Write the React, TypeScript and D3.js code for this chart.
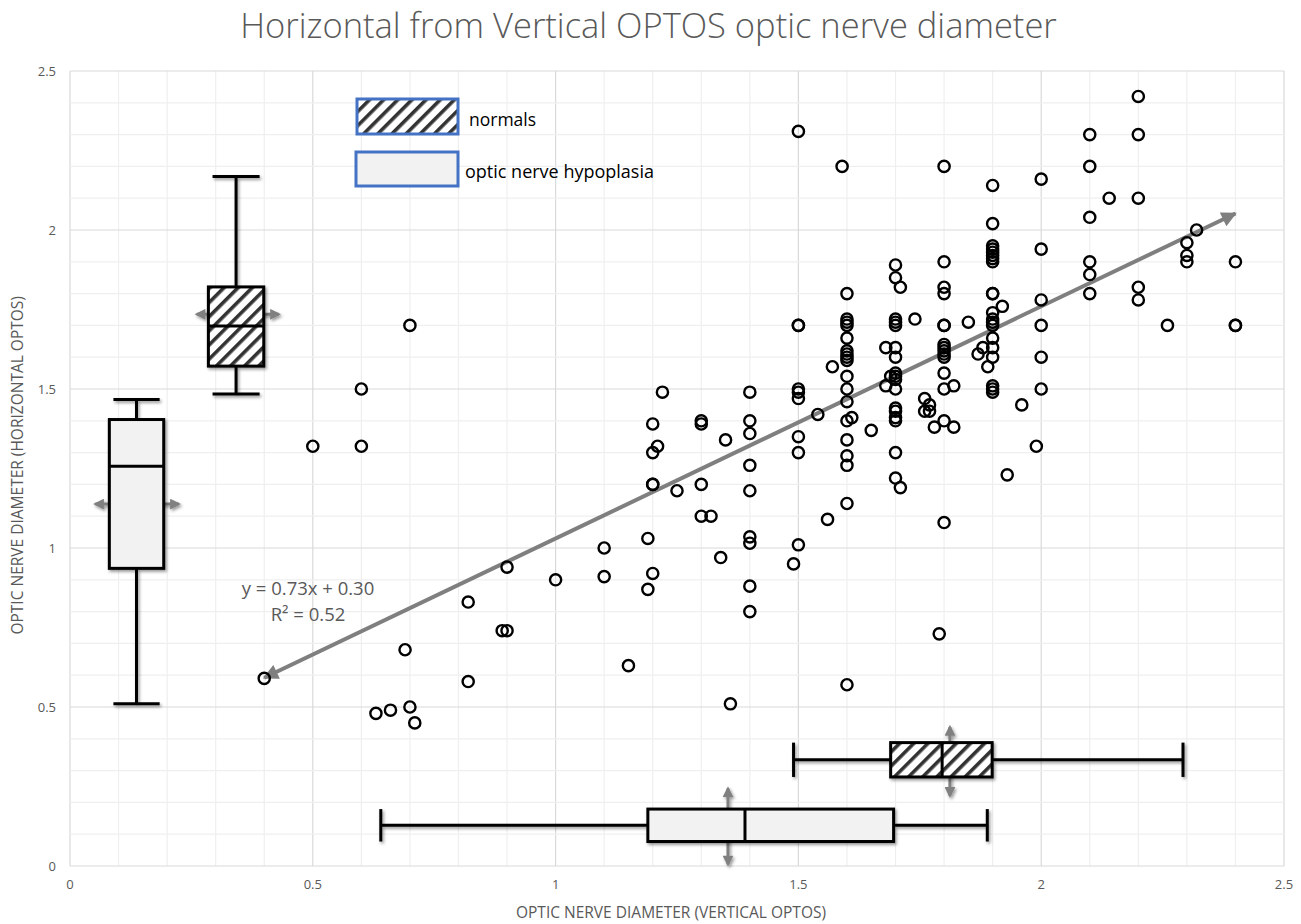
import React from "react";
import * as d3 from "d3";

const W = 1301;
const H = 924;

const chartTitle = "Horizontal from Vertical OPTOS optic nerve diameter";
const xAxisTitle = "OPTIC NERVE DIAMETER (VERTICAL OPTOS)";
const yAxisTitle = "OPTIC NERVE DIAMETER (HORIZONTAL OPTOS)";
const xTicks = [0, 0.5, 1, 1.5, 2, 2.5];
const yTicks = [0, 0.5, 1, 1.5, 2, 2.5];
const equationLines = ["y = 0.73x + 0.30", "R² = 0.52"];
const fitSlope = 0.73;
const fitIntercept = 0.3;
const fitRange = [0.4, 2.4];

// scatter: vertical OPTOS (x) and horizontal OPTOS (y)
const verticalOptos: number[] = [
  0.4, 0.5, 0.6, 0.6, 0.7, 0.69, 0.63, 0.66, 0.7, 0.71,
  0.82, 0.82, 0.9, 0.89, 0.9, 1.0, 1.1, 1.1, 1.15, 1.19,
  1.19, 1.2, 1.2, 1.2, 1.21, 1.2, 1.2, 1.22, 1.25, 1.3,
  1.3, 1.3, 1.3, 1.32, 1.35, 1.34, 1.36, 1.4, 1.4, 1.4,
  1.4, 1.4, 1.4, 1.4, 1.4, 1.4, 1.49, 1.5, 1.5, 1.5,
  1.5, 1.5, 1.5, 1.5, 1.5, 1.5, 1.54, 1.56, 1.57, 1.59,
  1.6, 1.6, 1.6, 1.6, 1.6, 1.6, 1.6, 1.6, 1.6, 1.6,
  1.6, 1.6, 1.6, 1.6, 1.6, 1.6, 1.6, 1.6, 1.61, 1.65,
  1.68, 1.68, 1.69,
  1.7, 1.7, 1.7, 1.7, 1.7, 1.7, 1.7, 1.7, 1.7, 1.7,
  1.7, 1.7, 1.7, 1.7, 1.7, 1.7, 1.7,
  1.71, 1.71, 1.74, 1.76, 1.77, 1.76, 1.77, 1.78, 1.79,
  1.8, 1.8, 1.8, 1.8, 1.8, 1.8, 1.8, 1.8, 1.8, 1.8,
  1.8, 1.8, 1.8, 1.8, 1.8,
  1.82, 1.82, 1.85, 1.87, 1.88, 1.89,
  1.9, 1.9, 1.9, 1.9, 1.9, 1.9, 1.9, 1.9, 1.9, 1.9,
  1.9, 1.9, 1.9, 1.9, 1.9, 1.9, 1.9, 1.9, 1.9, 1.9,
  1.92, 1.93, 1.96, 1.99,
  2.0, 2.0, 2.0, 2.0, 2.0, 2.0,
  2.1, 2.1, 2.1, 2.1, 2.1, 2.1, 2.14,
  2.2, 2.2, 2.2, 2.2, 2.2, 2.26,
  2.3, 2.3, 2.3, 2.32, 2.4, 2.4, 2.4,
];
const horizontalOptos: number[] = [
  0.59, 1.32, 1.5, 1.32, 1.7, 0.68, 0.48, 0.49, 0.5, 0.45,
  0.83, 0.58, 0.94, 0.74, 0.74, 0.9, 1.0, 0.91, 0.63, 1.03,
  0.87, 0.92, 1.39, 1.3, 1.32, 1.2, 1.2, 1.49, 1.18, 1.4,
  1.39, 1.2, 1.1, 1.1, 1.34, 0.97, 0.51, 1.49, 1.4, 1.36,
  1.26, 1.18, 1.035, 1.015, 0.88, 0.8, 0.95, 2.31, 1.7, 1.7,
  1.5, 1.49, 1.47, 1.35, 1.3, 1.01, 1.42, 1.09, 1.57, 2.2,
  1.8, 1.72, 1.71, 1.7, 1.66, 1.62, 1.61, 1.6, 1.59, 1.54,
  1.5, 1.46, 1.4, 1.34, 1.29, 1.26, 1.14, 0.57, 1.41, 1.37,
  1.63, 1.51, 1.54,
  1.89, 1.85, 1.72, 1.71, 1.7, 1.63, 1.6, 1.55, 1.54, 1.53,
  1.5, 1.44, 1.43, 1.41, 1.4, 1.3, 1.22,
  1.82, 1.19, 1.72, 1.47, 1.45, 1.43, 1.43, 1.38, 0.73,
  2.2, 1.9, 1.82, 1.8, 1.7, 1.7, 1.64, 1.63, 1.62, 1.61,
  1.6, 1.55, 1.5, 1.4, 1.08,
  1.51, 1.38, 1.71, 1.61, 1.63, 1.57,
  2.14, 2.02, 1.95, 1.94, 1.93, 1.92, 1.91, 1.9, 1.8, 1.8,
  1.74, 1.72, 1.71, 1.7, 1.66, 1.63, 1.6, 1.51, 1.5, 1.49,
  1.76, 1.23, 1.45, 1.32,
  2.16, 1.94, 1.78, 1.7, 1.6, 1.5,
  2.3, 2.2, 2.04, 1.9, 1.86, 1.8, 2.1,
  2.42, 2.3, 2.1, 1.82, 1.78, 1.7,
  1.96, 1.92, 1.9, 2.0, 1.9, 1.7, 1.7,
];

// box plot summaries: index 0 = normals, 1 = optic nerve hypoplasia
const groupNames = ["normals", "optic nerve hypoplasia"];
// distribution of vertical OPTOS (drawn horizontally along x)
const vertMin = [1.49, 0.64];
const vertQ1 = [1.69, 1.19];
const vertMedian = [1.796, 1.39];
const vertQ3 = [1.899, 1.696];
const vertMax = [2.292, 1.889];
const vertMean = [1.812, 1.355];
// distribution of horizontal OPTOS (drawn vertically along y)
const horzMin = [1.484, 0.51];
const horzQ1 = [1.572, 0.936];
const horzMedian = [1.698, 1.257];
const horzQ3 = [1.821, 1.404];
const horzMax = [2.168, 1.467];
const horzMean = [1.735, 1.138];

const plot = { left: 70, right: 1284, top: 71, bottom: 866 };
const x = d3.scaleLinear().domain([0, 2.5]).range([plot.left, plot.right]);
const y = d3.scaleLinear().domain([0, 2.5]).range([plot.bottom, plot.top]);

// layout of the box glyphs (in data units)
const hBoxCenter = [0.334, 0.128];
const hBoxHalf = [0.054, 0.051];
const hArrow = [[0.221, 0.437], [0.005, 0.244]];
const vBoxCenter = [0.342, 0.137];
const vBoxHalf = [0.057, 0.056];
const vArrow = [[0.261, 0.43], [0.052, 0.224]];

const TXT = "#595959";
const FONT = "'Open Sans', 'Noto Sans', sans-serif";

function fillFor(i: number) {
  return i === 0 ? "url(#hatch)" : "#f2f2f2";
}

function HorizontalBox({ i }: { i: number }) {
  const cy = y(hBoxCenter[i]);
  const top = y(hBoxCenter[i] + hBoxHalf[i]);
  const bot = y(hBoxCenter[i] - hBoxHalf[i]);
  const sw = 3;
  return (
    <g>
      <line x1={x(vertMean[i])} x2={x(vertMean[i])} y1={y(hArrow[i][0])} y2={y(hArrow[i][1])}
        stroke="#808080" strokeWidth={3} markerStart="url(#garrow)" markerEnd="url(#garrow)" filter="url(#sh)" />
      <g filter="url(#sh)">
        <line x1={x(vertMin[i])} x2={x(vertQ1[i])} y1={cy} y2={cy} stroke="#000" strokeWidth={sw} />
        <line x1={x(vertQ3[i])} x2={x(vertMax[i])} y1={cy} y2={cy} stroke="#000" strokeWidth={sw} />
        <line x1={x(vertMin[i])} x2={x(vertMin[i])} y1={top} y2={bot} stroke="#000" strokeWidth={sw} />
        <line x1={x(vertMax[i])} x2={x(vertMax[i])} y1={top} y2={bot} stroke="#000" strokeWidth={sw} />
        <rect x={x(vertQ1[i])} y={top} width={x(vertQ3[i]) - x(vertQ1[i])} height={bot - top}
          fill={fillFor(i)} stroke="#000" strokeWidth={sw} />
        <line x1={x(vertMedian[i])} x2={x(vertMedian[i])} y1={top} y2={bot} stroke="#000" strokeWidth={sw} />
      </g>
    </g>
  );
}

function VerticalBox({ i }: { i: number }) {
  const cx = x(vBoxCenter[i]);
  const l = x(vBoxCenter[i] - vBoxHalf[i]);
  const r = x(vBoxCenter[i] + vBoxHalf[i]);
  const cl = x(vBoxCenter[i] - vBoxHalf[i] * 0.85);
  const cr = x(vBoxCenter[i] + vBoxHalf[i] * 0.85);
  const sw = 3;
  return (
    <g>
      <line x1={x(vArrow[i][0])} x2={x(vArrow[i][1])} y1={y(horzMean[i])} y2={y(horzMean[i])}
        stroke="#808080" strokeWidth={3} markerStart="url(#garrow)" markerEnd="url(#garrow)" filter="url(#sh)" />
      <g filter="url(#sh)">
        <line x1={cx} x2={cx} y1={y(horzMax[i])} y2={y(horzQ3[i])} stroke="#000" strokeWidth={sw} />
        <line x1={cx} x2={cx} y1={y(horzQ1[i])} y2={y(horzMin[i])} stroke="#000" strokeWidth={sw} />
        <line x1={cl} x2={cr} y1={y(horzMax[i])} y2={y(horzMax[i])} stroke="#000" strokeWidth={sw} />
        <line x1={cl} x2={cr} y1={y(horzMin[i])} y2={y(horzMin[i])} stroke="#000" strokeWidth={sw} />
        <rect x={l} y={y(horzQ3[i])} width={r - l} height={y(horzQ1[i]) - y(horzQ3[i])}
          fill={fillFor(i)} stroke="#000" strokeWidth={sw} />
        <line x1={l} x2={r} y1={y(horzMedian[i])} y2={y(horzMedian[i])} stroke="#000" strokeWidth={sw} />
      </g>
    </g>
  );
}

export default function App() {
  const minorX = d3.range(0, 2.5001, 0.1);
  const minorY = d3.range(0, 2.5001, 0.1);
  const points = verticalOptos.map((v, i) => [v, horizontalOptos[i]]);
  return (
    <svg width={W} height={H} style={{ position: "absolute", left: 0, top: 0, background: "#fff" }}
      fontFamily={FONT}>
      <defs>
        <pattern id="hatch" patternUnits="userSpaceOnUse" width={10} height={10} patternTransform="rotate(45)">
          <rect width={10} height={10} fill="#fff" />
          <rect x={0} y={0} width={3.6} height={10} fill="#333" />
        </pattern>
        <marker id="garrow" viewBox="0 0 10 10" refX={8} refY={5} markerWidth={4.2} markerHeight={3.6}
          orient="auto-start-reverse">
          <path d="M0,0 L10,5 L0,10 z" fill="#808080" />
        </marker>
        <marker id="farrow" viewBox="0 0 10 10" refX={9} refY={5} markerWidth={4.4} markerHeight={3.8}
          orient="auto-start-reverse">
          <path d="M0,0 L10,5 L0,10 z" fill="#7f7f7f" />
        </marker>
        <filter id="sh" filterUnits="userSpaceOnUse" x={0} y={0} width={W} height={H}>
          <feDropShadow dx={1.5} dy={2} stdDeviation={1.6} floodColor="#000" floodOpacity={0.4} />
        </filter>
      </defs>
      <rect width={W} height={H} fill="#fff" />
      <text x={W / 2 - 2} y={38} textAnchor="middle" fontSize={34.5} fontWeight={300} fill={TXT}>{chartTitle}</text>

      {/* grid */}
      <g>
        {minorX.map((v) => (
          <line key={"gx" + v} x1={x(v)} x2={x(v)} y1={plot.top} y2={plot.bottom}
            stroke={Math.abs(v * 2 - Math.round(v * 2)) < 1e-6 ? "#d9d9d9" : "#efefef"} strokeWidth={1.2} />
        ))}
        {minorY.map((v) => (
          <line key={"gy" + v} x1={plot.left} x2={plot.right} y1={y(v)} y2={y(v)}
            stroke={Math.abs(v * 2 - Math.round(v * 2)) < 1e-6 ? "#d9d9d9" : "#efefef"} strokeWidth={1.2} />
        ))}
      </g>

      {/* tick labels */}
      {xTicks.map((t) => (
        <text key={"xt" + t} x={x(t)} y={889} textAnchor="middle" fontSize={13} fill={TXT}>{String(t)}</text>
      ))}
      {yTicks.map((t) => (
        <text key={"yt" + t} x={56} y={y(t) + 4.5} textAnchor="end" fontSize={13} fill={TXT}>{String(t)}</text>
      ))}
      <text x={671} y={918} textAnchor="middle" fontSize={15.5} fill={TXT}>{xAxisTitle}</text>
      <text transform={`translate(23,${y(1.26)}) rotate(-90)`} textAnchor="middle" fontSize={15.5} fill={TXT}>{yAxisTitle}</text>

      {/* trend line */}
      <line x1={x(fitRange[0])} y1={y(fitSlope * fitRange[0] + fitIntercept)}
        x2={x(fitRange[1])} y2={y(fitSlope * fitRange[1] + fitIntercept)}
        stroke="#7f7f7f" strokeWidth={4} markerStart="url(#farrow)" markerEnd="url(#farrow)" />
      <text x={308} y={595} textAnchor="middle" fontSize={18.5} fill={TXT}>{equationLines[0]}</text>
      <text x={308} y={621} textAnchor="middle" fontSize={18.5} fill={TXT}>{equationLines[1]}</text>

      {/* scatter */}
      <g>
        {points.map((p, i) => (
          <circle key={"p" + i} cx={x(p[0])} cy={y(p[1])} r={5.6} fill="none" stroke="#000" strokeWidth={2.4} />
        ))}
      </g>

      {/* box plots */}
      <HorizontalBox i={1} />
      <HorizontalBox i={0} />
      <VerticalBox i={1} />
      <VerticalBox i={0} />

      {/* legend */}
      <g>
        <rect x={357} y={99} width={101} height={35} fill="url(#hatch)" stroke="#4472c4" strokeWidth={3} />
        <text x={469} y={126} fontSize={17.5} fill="#000">{groupNames[0]}</text>
        <rect x={356} y={152} width={102} height={34} fill="#f2f2f2" stroke="#4472c4" strokeWidth={3} />
        <text x={465} y={178} fontSize={18} fill="#000">{groupNames[1]}</text>
      </g>
    </svg>
  );
}
